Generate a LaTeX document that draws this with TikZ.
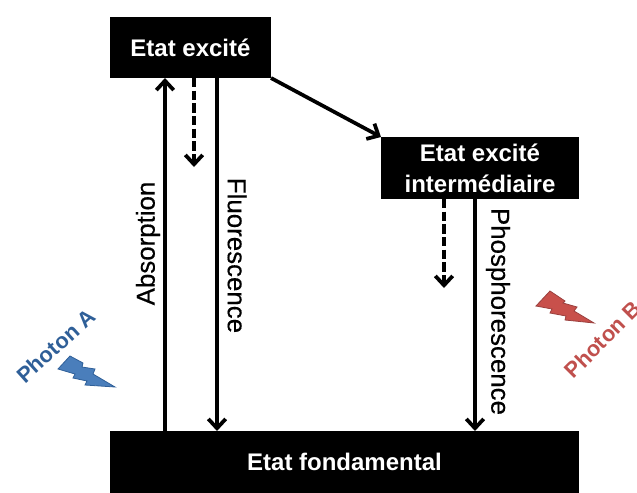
\documentclass[tikz,border=0pt]{standalone}
\usepackage{fontspec}
\setmainfont{Liberation Sans}
\newfontfamily\medfont[FakeBold=0.4]{Liberation Sans}
\usetikzlibrary{arrows.meta}
\definecolor{bluetxt}{HTML}{2F5F98}
\definecolor{redtxt}{HTML}{C0504D}
\definecolor{blueb}{HTML}{4A7EBB}
\definecolor{redb}{HTML}{C8504B}
\tikzset{
  statebox/.style={fill=black,draw=none,text=white,inner sep=0pt,align=center,font=\bfseries\fontsize{18}{23}\selectfont},
  conn/.style={line width=2.8pt,-{Straight Barb[length=7pt,width=13pt,line width=2.8pt]}},
  dashconn/.style={conn,dash pattern=on 7pt off 2.5pt},
  vlabel/.style={font=\medfont\fontsize{19.4}{22}\selectfont,text=black,inner sep=0pt},
  photon/.style={font=\bfseries\fontsize{16.4}{18}\selectfont,inner sep=0pt}
}
\begin{document}
\begin{tikzpicture}[x=0.75pt,y=-0.75pt]
\useasboundingbox (0,0) rectangle (637,493);
\clip (0,0) rectangle (637,493);
\node[statebox,minimum width=120.75pt,minimum height=45.75pt] (e) at (190.5,47.5) {Etat excité};
\node[statebox,minimum width=148.5pt,minimum height=46.5pt] (i) at (480,168) {Etat excité\\intermédiaire};
\node[statebox,minimum width=351.75pt,minimum height=46.5pt] (f) at (344.5,462) {\raisebox{-1.5pt}{Etat fondamental}};
\coordinate (a1) at (165,431); \coordinate (a2) at (165,78);
\coordinate (d1) at (194,78); \coordinate (d2) at (194,167);
\coordinate (l1) at (217,78); \coordinate (l2) at (217,431);
\coordinate (t1) at (271,78); \coordinate (t2) at (381,137);
\coordinate (g1) at (444,199); \coordinate (g2) at (444,288);
\coordinate (p1) at (475,199); \coordinate (p2) at (475,431);
\draw[conn] (a1) -- (a2);
\draw[dashconn] (d1) -- (d2);
\draw[conn] (l1) -- (l2);
\draw[conn] (t1) -- (t2);
\draw[dashconn] (g1) -- (g2);
\draw[conn] (p1) -- (p2);
\node[vlabel,rotate=90] (la) at (148,243.5) {Absorption};
\node[vlabel,rotate=-90] (lf) at (237,255.5) {Fluorescence};
\node[vlabel,rotate=-90] (lp) at (498,311.5) {Phosphorescence};
\node[photon,text=bluetxt,rotate=42] (pa) at (56,346) {Photon A};
\node[photon,text=redtxt,anchor=west,rotate=45] (pb) at (568,374) {Photon B};
\fill[blueb,draw=bluetxt,line width=0.6pt] (70,356) -- (83,363) -- (82,367) -- (95,369) -- (93,374) -- (115,387) -- (85,385) -- (87,381) -- (73,378) -- (75,374) -- (58,369) -- cycle;
\fill[redb,draw=redtxt!80!black,line width=0.6pt] (550,291) -- (565,301) -- (563,303) -- (577,307) -- (574,311) -- (594,323) -- (565,320) -- (566,316) -- (550,313) -- (552,309) -- (536,306) -- cycle;
\end{tikzpicture}
\end{document}
